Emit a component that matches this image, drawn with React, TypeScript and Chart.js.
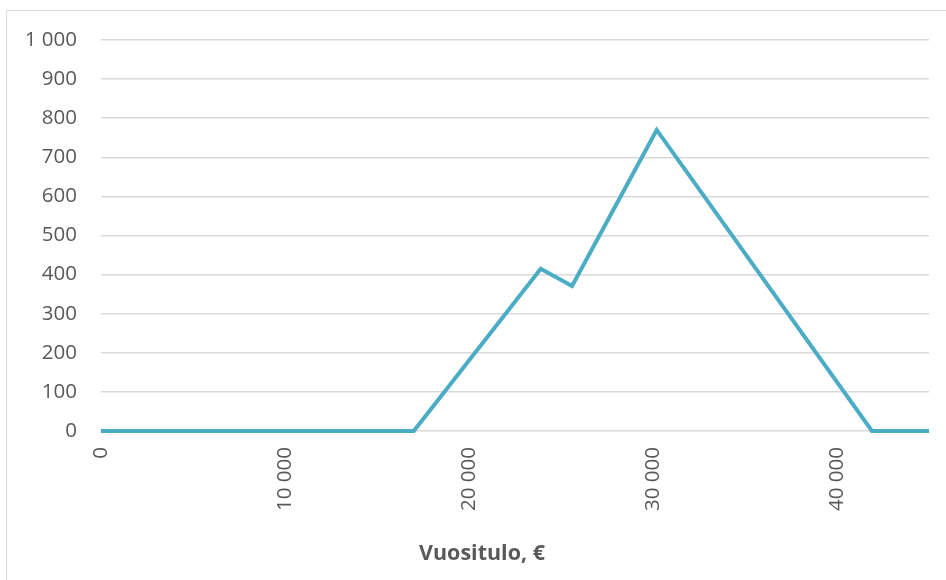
import React, { useEffect, useRef } from "react";
import { Chart, registerables } from "chart.js";

Chart.register(...registerables);

const incomeX = [0, 17000, 23900, 25600, 30200, 41900, 45000];
const benefitY = [0, 0, 415, 371, 770, 0, 0];
const xTickValues = [0, 10000, 20000, 30000, 40000];
const yTickValues = [0, 100, 200, 300, 400, 500, 600, 700, 800, 900, 1000];
const xAxisTitle = "Vuositulo, €";

const fmt = (v: number) => {
  const s = Math.round(v).toString();
  return s.replace(/\B(?=(\d{3})+(?!\d))/g, " ");
};

export default function App() {
  const ref = useRef<HTMLCanvasElement | null>(null);
  useEffect(() => {
    document.body.style.margin = "0";
    if (!ref.current) return;
    const chart = new Chart(ref.current, {
      type: "line",
      data: {
        datasets: [
          {
            data: incomeX.map((x, i) => ({ x, y: benefitY[i] })),
            borderColor: "#4bacc6",
            borderWidth: 4,
            pointRadius: 0,
            fill: false,
            tension: 0,
            clip: false,
            borderCapStyle: "butt",
            borderJoinStyle: "miter",
          },
        ],
      },
      options: {
        animation: false,
        responsive: false,
        maintainAspectRatio: false,
        layout: { padding: { top: 40, right: 17, left: 0, bottom: 0 } },
        plugins: { legend: { display: false }, tooltip: { enabled: false } },
        scales: {
          x: {
            type: "linear",
            min: 0,
            max: 45000,
            afterBuildTicks: (s: any) => {
              s.ticks = xTickValues.map((v) => ({ value: v }));
            },
            afterFit: (s: any) => {
              s.height = 149;
            },
            grid: { display: false, drawTicks: false },
            border: { display: false },
            ticks: {
              minRotation: 90,
              maxRotation: 90,
              padding: 16,
              color: "#595959",
              font: { family: "'Open Sans'", size: 20.5 },
              callback: (v: any) => fmt(Number(v)),
            },
          },
          y: {
            min: 0,
            max: 1000,
            afterBuildTicks: (s: any) => {
              s.ticks = yTickValues.map((v) => ({ value: v }));
            },
            afterFit: (s: any) => {
              s.width = 101;
            },
            grid: { color: "#d9d9d9", lineWidth: 1.5, drawTicks: false },
            border: { display: false },
            ticks: {
              padding: 24,
              color: "#595959",
              font: { family: "'Open Sans'", size: 20.5 },
              callback: (v: any) => fmt(Number(v)),
            },
          },
        },
      },
    });
    return () => chart.destroy();
  }, []);
  return (
    <div style={{ position: "fixed", left: 0, top: 0, width: 946, height: 580, overflow: "hidden", background: "#fff" }}>
      <div
        style={{
          position: "absolute",
          left: 6,
          top: 10,
          width: 960,
          height: 600,
          border: "1.5px solid #d9d9d9",
          boxSizing: "border-box",
        }}
      />
      <canvas ref={ref} width={946} height={580} style={{ position: "absolute", left: 0, top: 0 }} />
      <div
        style={{
          position: "absolute",
          left: 332,
          width: 300,
          top: 537,
          textAlign: "center",
          fontFamily: "'Open Sans'",
          fontWeight: 700,
          fontSize: 21.5,
          color: "#595959",
          lineHeight: "30px",
        }}
      >
        {xAxisTitle}
      </div>
    </div>
  );
}
